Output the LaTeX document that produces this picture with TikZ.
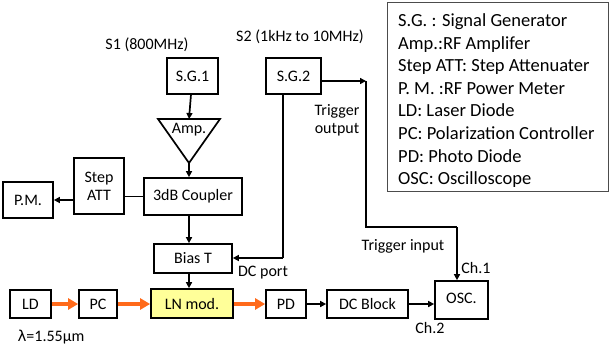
\documentclass[tikz,border=0pt]{standalone}
\usepackage{fontspec}
\setmainfont{Carlito}
\usetikzlibrary{arrows.meta}
\definecolor{optorange}{HTML}{FF6A1A}
\definecolor{lnyellow}{HTML}{FFFF99}
\begin{document}
\begin{tikzpicture}[x=1pt,y=-1pt,
  blk/.style={draw,line width=1.7pt,inner sep=0pt,font=\fontsize{16}{18}\selectfont},
  lbl/.style={inner sep=0pt,font=\fontsize{16}{18}\selectfont,align=center},
  sig/.style={line width=1.7pt,-{Triangle[length=6pt,width=6pt]}},
  wire/.style={line width=1.7pt},
  opt/.style={line width=3.5pt,optorange,-{Triangle[length=10pt,width=11pt]}}]
\useasboundingbox (0,0) rectangle (610,349);
% legend
\node[draw=black!70,line width=0.8pt,minimum width=221pt,minimum height=189pt,inner sep=0pt] (legend) at (497.5,96.5) {};
\node[anchor=north west,inner sep=0pt,align=left,font=\fontsize{18.5}{22.6}\selectfont] (legtext) at (398,13.5)
 {S.G. : Signal Generator\\Amp.:RF Amplifer\\Step ATT: Step Attenuater\\P. M. :RF Power Meter\\LD: Laser Diode\\PC: Polarization Controller\\PD: Photo Diode\\OSC: Oscilloscope};
% top labels
\node[lbl] (s1) at (147,45) {S1 (800MHz)};
\node[lbl] (s2) at (300,37) {S2 (1kHz to 10MHz)};
% boxes
\node[blk,minimum width=51pt,minimum height=36pt] (sg1) at (192.5,76) {S.G.1};
\node[blk,minimum width=55pt,minimum height=36pt] (sg2) at (293.5,76) {S.G.2};
\coordinate (ampl) at (158,119);
\coordinate (ampr) at (220,119);
\coordinate (amptip) at (189,163);
\coordinate (amptop) at (189,119);
\draw[line width=1.7pt,line join=miter] (ampl) -- (ampr) -- (amptip) -- cycle;
\node[lbl] (amptext) at (189,130) {Amp.};
\node[blk,minimum width=98pt,minimum height=37pt] (coupler) at (193,196.5) {3dB Coupler};
\node[blk,minimum width=50pt,minimum height=56pt,align=center] (att) at (99,186) {Step\\ATT};
\node[blk,minimum width=50pt,minimum height=36pt] (pm) at (28,200) {P.M.};
\node[blk,minimum width=78pt,minimum height=29pt] (biast) at (193,258.5) {Bias T};
\node[blk,minimum width=41pt,minimum height=28pt] (ld) at (30.5,304) {LD};
\node[blk,minimum width=38pt,minimum height=28pt] (pc) at (98,304) {PC};
\node[blk,minimum width=82pt,minimum height=29pt,fill=lnyellow] (ln) at (192,303.5) {LN mod.};
\node[blk,minimum width=40pt,minimum height=28pt] (pd) at (286,304) {PD};
\node[blk,minimum width=81pt,minimum height=28pt] (dcb) at (367.5,304) {DC Block};
\node[blk,minimum width=53pt,minimum height=38pt] (osc) at (461.5,300) {};
\node[lbl] (osctext) at (461.5,298) {OSC.};
% labels
\node[lbl] (trigout) at (337,120) {Trigger\\output};
\node[lbl] (dcport) at (263,273) {DC port};
\node[lbl] (trigin) at (403,246) {Trigger input};
\node[lbl] (ch1) at (476,268) {Ch.1};
\node[lbl] (ch2) at (430,328) {Ch.2};
\node[lbl] (lambda) at (51,337) {\fontspec{DejaVu Sans}\fontsize{15}{17}\selectfont λ\fontspec{Carlito}\fontsize{16}{18}\selectfont =1.55μm};
% coordinates
\coordinate (tout) at (366,81);
\coordinate (tc1) at (366,227);
\coordinate (tc2) at (457,227);
\coordinate (dc1) at (283,258);
% RF connections
\draw[sig] (sg1) -- (amptop);
\draw[sig] (amptip) -- (amptip |- coupler.north);
\draw[wire] (att.east |- coupler.west) -- (coupler.west);
\draw[sig] (att.west |- pm.east) -- (pm.east);
\draw[sig] (coupler.south -| amptip) -- (biast.north -| amptip);
\draw[sig] (biast.south -| amptip) -- (ln.north -| amptip);
\draw[sig] (sg2.east |- tout) -- (tout);
\draw[wire] (tout) -- (tc1) -- (tc2);
\draw[sig] (tc2) -- (tc2 |- osc.north);
\draw[wire] (sg2.south -| dc1) -- (dc1);
\draw[sig] (dc1) -- (biast.east |- dc1);
\draw[sig] (pd.east) -- (dcb.west);
\draw[sig] (dcb.east) -- (osc.west |- dcb.east);
% optical
\draw[opt] (ld.east) -- (pc.west);
\draw[opt] (pc.east) -- (ln.west |- pc.east);
\draw[opt] (ln.east |- pd.west) -- (pd.west);
\end{tikzpicture}
\end{document}
